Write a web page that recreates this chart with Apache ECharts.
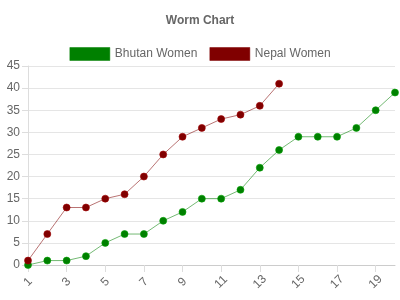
<!DOCTYPE html>
<html><head><meta charset="utf-8">
<script src="https://cdn.jsdelivr.net/npm/echarts@6/dist/echarts.min.js"></script>
<style>html,body{margin:0;padding:0;background:#fff}#c{width:400px;height:300px}</style>
</head><body><div id="c"></div>
<script>
const categories = ["1","2","3","4","5","6","7","8","9","10","11","12","13","14","15","16","17","18","19","20"];
const bhutanWomen = [0,1,1,2,5,7,7,10,12,15,15,17,22,26,29,29,29,31,35,39];
const nepalWomen = [1,7,13,13,15,16,20,25,29,31,33,34,36,41];
const chart = echarts.init(document.getElementById('c'));
const font = 'Liberation Sans, Arial, sans-serif';
chart.setOption({
  animation:false,
  title:{text:'Worm Chart',left:'center',top:10,textStyle:{fontSize:12,fontWeight:'bold',color:'#666',fontFamily:font}},
  legend:{top:42,left:'center',itemWidth:40,itemHeight:13,itemGap:12,icon:'rect',
    textStyle:{fontSize:12,color:'#666',fontFamily:font},
    data:[{name:'Bhutan Women',itemStyle:{color:'#008000',borderColor:'rgba(0,128,0,0.5)',borderWidth:1}},
          {name:'Nepal Women',itemStyle:{color:'#800000',borderColor:'rgba(128,0,0,0.5)',borderWidth:1}}]},
  grid:{left:28,right:5,top:66,bottom:35,containLabel:false},
  xAxis:{type:'category',data:categories,boundaryGap:false,
    axisLine:{lineStyle:{color:'#ccc'}},axisTick:{show:true,interval:1,length:7,lineStyle:{color:'#ddd'}},
    axisLabel:{interval:1,rotate:45,align:'center',verticalAlign:'middle',color:'#666',fontSize:12,fontFamily:font,margin:17},
    splitLine:{show:false}},
  yAxis:{type:'value',min:0,max:45,interval:5,
    axisLine:{show:true,lineStyle:{color:'#ddd'}},axisTick:{show:true,length:6,lineStyle:{color:'#ddd'}},
    axisLabel:{color:'#666',fontSize:12,fontFamily:font,margin:8},
    splitLine:{lineStyle:{color:'#e5e5e5'}}},
  series:[
    {name:'Bhutan Women',type:'line',data:bhutanWomen,symbol:'circle',symbolSize:7,
      itemStyle:{color:'#008000',borderColor:'rgba(0,160,0,0.6)',borderWidth:1},
      lineStyle:{width:1,color:'rgba(0,128,0,0.55)'}},
    {name:'Nepal Women',type:'line',data:nepalWomen,symbol:'circle',symbolSize:7,
      itemStyle:{color:'#800000',borderColor:'rgba(160,0,0,0.6)',borderWidth:1},
      lineStyle:{width:1,color:'rgba(128,0,0,0.55)'}}
  ]
});
</script></body></html>
